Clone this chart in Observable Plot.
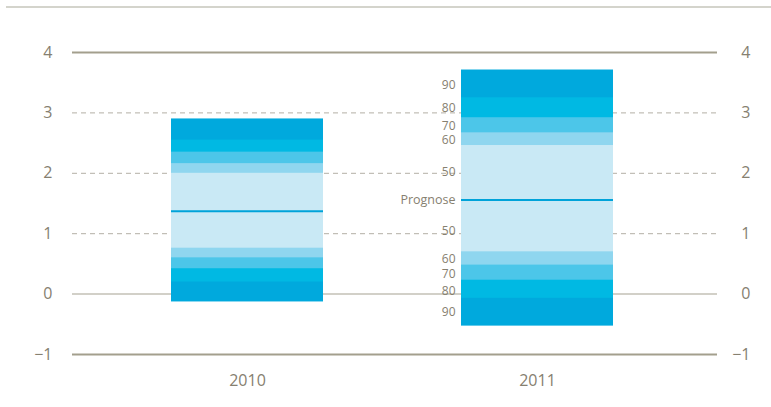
<!DOCTYPE html>
<html>
<head>
<meta charset="utf-8">
<script src="https://cdn.jsdelivr.net/npm/d3@7"></script>
<script src="https://cdn.jsdelivr.net/npm/@observablehq/plot@0.6"></script>
<style>
  html, body { margin: 0; padding: 0; background: #fff; }
  #wrap { position: relative; width: 771px; height: 407px; }
  #rule { position: absolute; top: 6px; left: 6px; right: 0; height: 2px; background: #d4d4cc; }
</style>
</head>
<body>
<div id="wrap"><div id="rule"></div><div id="chart"></div></div>
<script>
// ---- data ----
const years = ["2010", "2011"];
const levels = ["90", "80", "70", "60", "50"];          // probability bands (%)
const upper2010 = [2.90, 2.55, 2.35, 2.16, 2.00];       // upper edge of band per level
const lower2010 = [-0.13, 0.20, 0.42, 0.60, 0.76];      // lower edge of band per level
const center2010 = 1.37;
const upper2011 = [3.71, 3.25, 2.92, 2.67, 2.46];
const lower2011 = [-0.53, -0.07, 0.23, 0.48, 0.70];
const center2011 = 1.56;
// label positions for the 2011 band captions
const labelUpper2011 = [3.45, 3.07, 2.77, 2.55, 2.02];
const labelLower2011 = [-0.31, 0.05, 0.33, 0.58, 1.04];
const yTicks = [-1, 0, 1, 2, 3, 4];
const solidLines = [4, -1];
const zeroLine = [0];
const dashedLines = [1, 2, 3];
const centerLabel = "Prognose";

const bandColors = {"90": "#00a9dd", "80": "#00b9e3", "70": "#4cc6e9", "60": "#8fd6ef", "50": "#c9e9f5"};
const textColor = "#868070";

const bands = [];
levels.forEach((l, i) => {
  bands.push({year: "2010", level: l, lo: lower2010[i], hi: upper2010[i]});
  bands.push({year: "2011", level: l, lo: lower2011[i], hi: upper2011[i]});
});
const centers = [{year: "2010", v: center2010}, {year: "2011", v: center2011}];

const labels2011 = [];
levels.forEach((l, i) => {
  labels2011.push({year: "2011", text: l, v: labelUpper2011[i]});
  labels2011.push({year: "2011", text: l, v: labelLower2011[i]});
});

const chart = Plot.plot({
  width: 771,
  height: 407,
  marginLeft: 72,
  marginRight: 54,
  marginTop: 52,
  marginBottom: 53,
  style: {fontFamily: "'Open Sans', sans-serif", background: "transparent"},
  x: {type: "band", domain: years, range: [171, 613], paddingInner: 0.476, paddingOuter: 0},
  y: {domain: [-1, 4]},
  marks: [
    Plot.ruleY(dashedLines, {stroke: "#b3afa5", strokeWidth: 1, strokeDasharray: "5,4"}),
    Plot.ruleY(solidLines, {stroke: "#a39f8d", strokeWidth: 2}),
    Plot.ruleY(zeroLine, {stroke: "#d2d0c8", strokeWidth: 2}),
    Plot.barY(bands, {x: "year", y1: "lo", y2: "hi", fill: d => bandColors[d.level]}),
    Plot.tickY(centers, {x: "year", y: "v", stroke: "#00a3d9", strokeWidth: 2}),
    Plot.text(labels2011, {x: "year", y: "v", text: "text", dx: -82, textAnchor: "end", fill: textColor, fontSize: 12, lineHeight: 0.9}),
    Plot.text(centers.filter(d => d.year === "2011"), {x: "year", y: "v", text: () => centerLabel, dx: -82, textAnchor: "end", fill: textColor, fontSize: 12.5}),
    Plot.axisY(yTicks, {anchor: "left", tickSize: 0, tickPadding: 20, fontSize: 16, color: textColor, tickFormat: d3.format("d")}),
    Plot.axisY(yTicks, {anchor: "right", tickSize: 0, tickPadding: 33, textAnchor: "end", fontSize: 16, color: textColor, tickFormat: d3.format("d")}),
    Plot.axisX({anchor: "bottom", tickSize: 0, tickPadding: 20, fontSize: 16, color: textColor, label: null})
  ]
});
document.getElementById("chart").appendChild(chart);
</script>
</body>
</html>
